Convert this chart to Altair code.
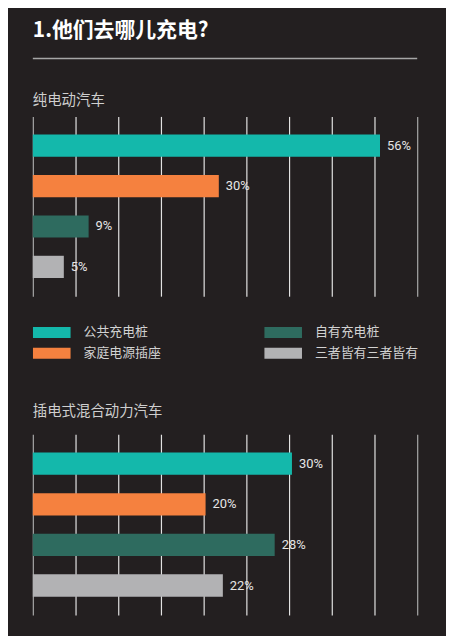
import altair as alt
import pandas as pd

# ---------------- data ----------------
title_text = "1.他们去哪儿充电?"
panel1_title = "纯电动汽车"
panel2_title = "插电式混合动力汽车"
categories = ["公共充电桩", "家庭电源插座", "自有充电桩", "三者皆有三者皆有"]
category_colors = ["#14b8ab", "#f5813f", "#2e6b5f", "#b2b2b4"]
bev_values = [56, 30, 9, 5]
phev_values = [30, 20, 28, 22]

# ---------------- style ----------------
BG = "#231f20"
CJK = "Noto Sans CJK SC"
NUM = "Roboto"
W = 387

color_scale = alt.Scale(domain=categories, range=category_colors)

legend = alt.Legend(
    orient="none", legendX=0, legendY=317.5, columns=2, title=None,
    symbolType="M-1,-0.29L1,-0.29L1,0.29L-1,0.29Z", symbolSize=1444,
    symbolStrokeWidth=0, symbolOpacity=1, clipHeight=14, rowPadding=7,
    columnPadding=103, labelOffset=13, symbolOffset=0, padding=0,
    labelFont=CJK, labelFontSize=13, labelColor="#d2d2d2", labelLimit=250,
)


def panel(values, dmax, h, leg):
    df = pd.DataFrame({"cat": categories, "value": values})
    grid_vals = [round(dmax * i / 9, 6) for i in range(10)]
    xenc = alt.X(
        "value:Q",
        scale=alt.Scale(domain=[0, dmax], nice=False, zero=True),
        axis=alt.Axis(
            values=grid_vals, grid=True, labels=False, ticks=False,
            domain=False, title=None, orient="top", gridWidth=1.2,
            gridColor={"condition": {"test": f"datum.value <= 0 || datum.value >= {dmax}",
                                     "value": "#a8a8a8"},
                       "value": "#e2e2e2"},
        ),
    )
    yenc = alt.Y("cat:N", sort=categories, axis=None,
                 scale=alt.Scale(paddingInner=0.45, paddingOuter=0.45))
    bars = alt.Chart(df).mark_bar().encode(
        x=xenc, y=yenc,
        color=alt.Color("cat:N", scale=color_scale, legend=leg),
    )
    labels = alt.Chart(df).transform_calculate(
        lbl="datum.value + '%'"
    ).mark_text(
        align="left", baseline="middle", dx=7, font=NUM, fontSize=13,
        color="#e6e6e6",
    ).encode(x="value:Q", y=yenc, text="lbl:N")
    return alt.layer(bars, labels).properties(width=W, height=h)


one = pd.DataFrame({"t": [title_text], "s1": [panel1_title], "s2": [panel2_title]})

header = alt.layer(
    alt.Chart(one).mark_text(
        align="left", baseline="middle", font=CJK, fontSize=21,
        fontWeight="bold", color="#ffffff",
    ).encode(x=alt.value(0), y=alt.value(21.5), text="t:N"),
    alt.Chart(one).mark_rule(color="#a6a6a6", strokeWidth=1.5).encode(
        x=alt.value(0), x2=alt.value(W), y=alt.value(48.7)
    ),
    alt.Chart(one).mark_text(
        align="left", baseline="middle", font=CJK, fontSize=14.5,
        color="#cfcfcf",
    ).encode(x=alt.value(0), y=alt.value(91.5), text="s1:N"),
).properties(width=W, height=107)

middle = alt.Chart(one).mark_text(
    align="left", baseline="middle", font=CJK, fontSize=14.5, color="#cfcfcf",
).encode(x=alt.value(0), y=alt.value(117), text="s2:N").properties(width=W, height=139)

p1 = panel(bev_values, 62, 181, legend)
p2 = panel(phev_values, 44.5, 182, None)

chart = alt.vconcat(header, p1, middle, p2, spacing=0).properties(
    padding={"left": 24, "top": 0, "right": 27, "bottom": 19},
    background=BG,
).configure_view(stroke=None).configure_concat(spacing=0)

chart.save("out.html", embed_options={"renderer": "svg", "actions": False})
